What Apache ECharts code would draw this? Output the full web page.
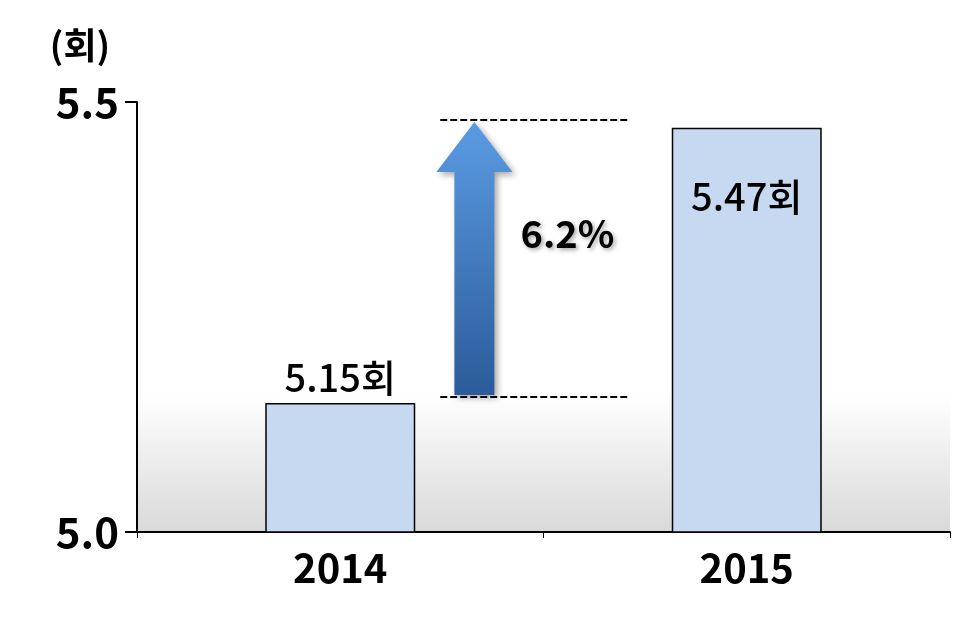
<!DOCTYPE html>
<html><head><meta charset="utf-8">
<script src="https://cdn.jsdelivr.net/npm/echarts@6/dist/echarts.min.js"></script>
<style>html,body{margin:0;padding:0;background:#fff}#c{width:964px;height:621px}</style>
</head><body><div id="c"></div>
<script>
const categories = ['2014', '2015'];
const values = [5.15, 5.47];
const valueLabels = ['5.15회', '5.47회'];
const yTicks = [5.0, 5.5];
const changeLabel = '6.2%';
const unitLabel = '(회)';
const F = '"Noto Sans CJK KR", "Noto Sans", sans-serif';
const chart = echarts.init(document.getElementById('c'));
chart.setOption({
  animation: false,
  grid: {left: 137, right: 14, top: 102, bottom: 89, show: true, borderWidth: 0,
    backgroundColor: {type: 'linear', x: 0, y: 0, x2: 0, y2: 1, colorStops: [
      {offset: 0, color: '#ffffff'}, {offset: 0.68, color: '#ffffff'}, {offset: 1, color: '#d9d9d9'}]}},
  xAxis: {type: 'category', data: categories,
    axisLine: {lineStyle: {color: '#000', width: 2}},
    axisTick: {show: true, length: 6, lineStyle: {color: '#000'}},
    axisLabel: {color: '#000', fontSize: 40, fontWeight: 'bold', fontFamily: F, margin: 16}},
  yAxis: {type: 'value', min: yTicks[0], max: yTicks[1], interval: 0.5,
    axisLine: {show: true, lineStyle: {color: '#000', width: 2}},
    axisTick: {show: true, length: 12, lineStyle: {color: '#000', width: 2}},
    splitLine: {show: false},
    axisLabel: {color: '#000', fontSize: 42, fontWeight: 'bold', fontFamily: F, margin: 18,
      formatter: v => v.toFixed(1)}},
  series: [{type: 'bar', barWidth: 150,
    data: [
      {value: values[0], label: {position: 'top', distance: 6}},
      {value: values[1], label: {position: 'insideTop', distance: 50}}],
    itemStyle: {color: '#c6d9f1', borderColor: '#000', borderWidth: 1.5},
    label: {show: true, fontSize: 38, fontWeight: 500, fontFamily: F, color: '#000',
      formatter: p => valueLabels[p.dataIndex]}}]
});

function draw() {
  const p = (x, y) => chart.convertToPixel({gridIndex: 0}, [x, y]);
  const left = p(0, values[0]), right = p(1, values[1]);
  const xs = left[0] + (right[0] - left[0]) * 0.33;
  const yTop = p(0, 5.479)[1], yBot = p(0, 5.157)[1];
  const x1 = left[0] + 100, x2 = left[0] + 288;
  const ax = xs, aTop = yTop + 2, aBot = yBot - 2;
  chart.setOption({graphic: [
    {type: 'line', shape: {x1: x1, y1: yTop, x2: x2, y2: yTop}, style: {stroke: '#000', lineWidth: 2, lineDash: [7, 3]}},
    {type: 'line', shape: {x1: x1, y1: yBot, x2: x2, y2: yBot}, style: {stroke: '#000', lineWidth: 2, lineDash: [7, 3]}},
    {type: 'polygon', shape: {points: [
      [ax, aTop], [ax + 38, aTop + 50], [ax + 20, aTop + 50], [ax + 20, aBot],
      [ax - 20, aBot], [ax - 20, aTop + 50], [ax - 38, aTop + 50]]},
     style: {fill: {type: 'linear', x: 0, y: 0, x2: 0, y2: 1, colorStops: [
       {offset: 0, color: '#5b9be3'}, {offset: 1, color: '#2b5b99'}]},
       shadowBlur: 6, shadowColor: 'rgba(0,0,0,0.35)', shadowOffsetX: 3, shadowOffsetY: 3}},
    {type: 'text', x: ax + 93, y: p(0, 5.347)[1], style: {text: changeLabel, font: 'bold 38px ' + F,
      fill: '#000', textAlign: 'center', textVerticalAlign: 'middle',
      textShadowColor: 'rgba(0,0,0,0.35)', textShadowBlur: 4, textShadowOffsetX: 2, textShadowOffsetY: 2}},
    {type: 'text', x: 80, y: 45, style: {text: unitLabel, font: 'bold 36px ' + F, fill: '#000',
      textAlign: 'center', textVerticalAlign: 'middle'}}
  ]});
}
draw();
</script></body></html>
